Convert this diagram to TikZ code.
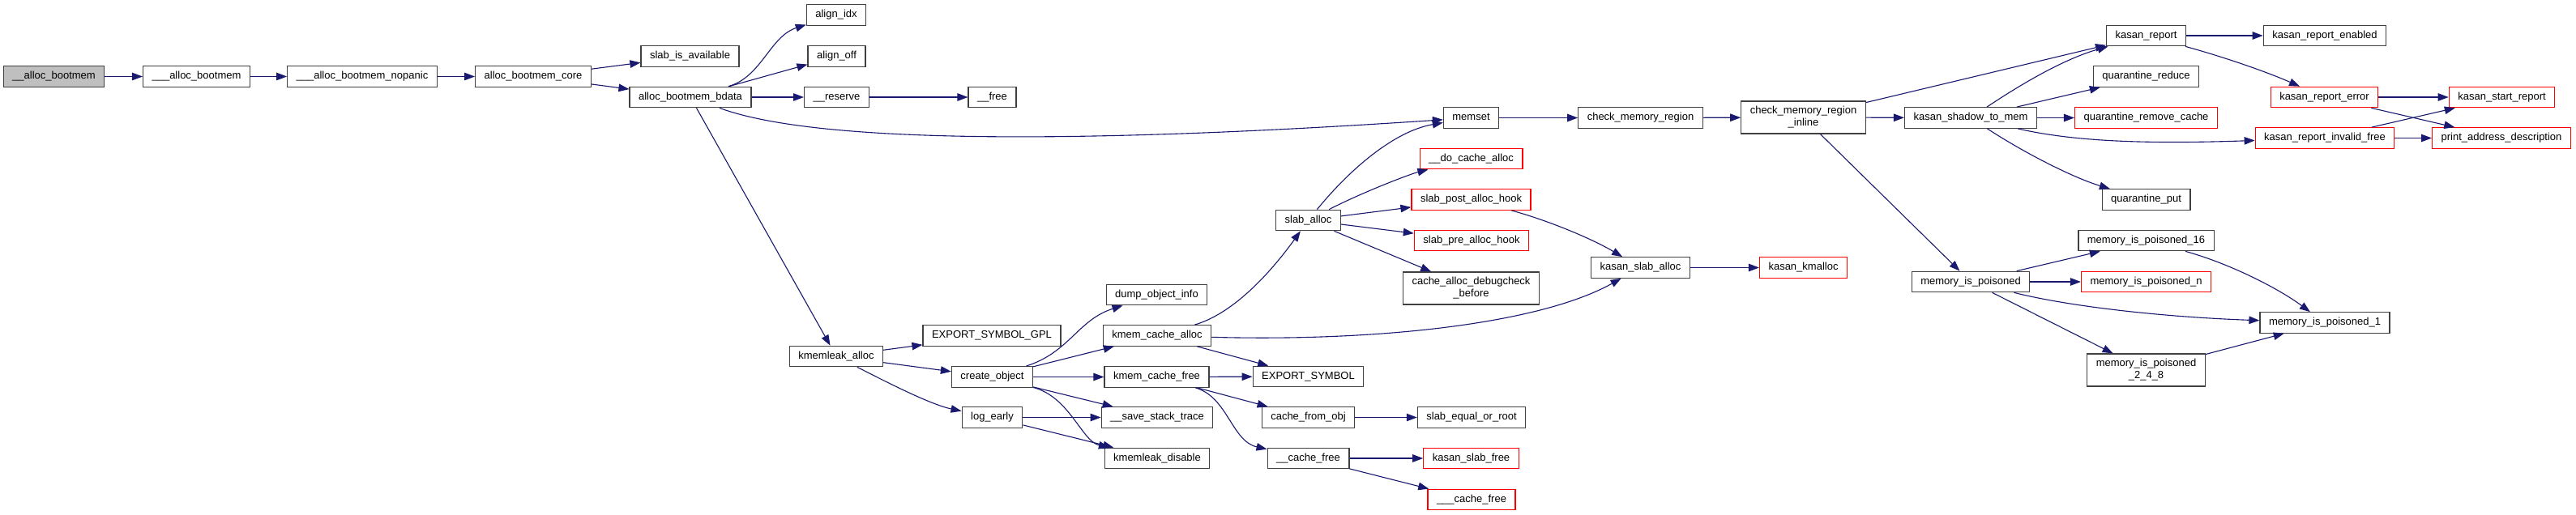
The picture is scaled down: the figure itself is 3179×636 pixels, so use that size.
\documentclass[tikz,border=0pt]{standalone}
\usepackage{fontspec}
\setmainfont{Liberation Sans}
\usetikzlibrary{arrows.meta}
\definecolor{edgeblue}{HTML}{191970}
\definecolor{boxgray}{HTML}{404040}
\begin{document}
\begin{tikzpicture}[x=1pt,y=-1pt,
  every node/.style={font=\fontsize{13}{15}\selectfont},
  fn/.style={draw=boxgray,line width=1.2pt,fill=white,inner xsep=11pt,inner ysep=3pt,minimum height=25.5pt,text height=9.5pt,text depth=3pt},
  fnred/.style={fn,draw=red},
  fntwo/.style={fn,align=center,minimum height=40pt,text height=,text depth=},
  call/.style={-{Triangle[length=13pt,width=9.5pt]},draw=edgeblue,line width=1.1pt}
]
\fill[white] (0,0) rectangle (3179,636);
\useasboundingbox (0,0) rectangle (3179,636);
% call chain from the root
\node[fn,fill=gray!50] (root) at (66.5,94.5) {\_\_alloc\_bootmem};
\node[fn] (allocA) at (242.5,94.5) {\_\_\_alloc\_bootmem};
\node[fn] (nopanic) at (447,94.5) {\_\_\_alloc\_bootmem\_nopanic};
\node[fn] (core) at (658,94.5) {alloc\_bootmem\_core};
\node[fn] (slabavail) at (851.5,69.5) {slab\_is\_available};
\node[fn] (bdata) at (852,120) {alloc\_bootmem\_bdata};
\node[fn] (alignidx) at (1032,18.5) {align\_idx};
\node[fn] (alignoff) at (1032.5,69.5) {align\_off};
\node[fn] (reserve) at (1032.5,120) {\_\_reserve};
\node[fn] (kmemleak) at (1032,440) {kmemleak\_alloc};
\node[fn] (free) at (1224.5,120) {\_\_free};
\node[fn] (exportgpl) at (1224,414.5) {EXPORT\_SYMBOL\_GPL};
\node[fn] (create) at (1224.5,465.5) {create\_object};
\node[fn] (logearly) at (1224.5,515.5) {log\_early};
\node[fn] (dump) at (1427.5,364) {dump\_object\_info};
\node[fn] (kcalloc) at (1428,414.5) {kmem\_cache\_alloc};
\node[fn] (kcfree) at (1427.5,465.5) {kmem\_cache\_free};
\node[fn] (savestack) at (1428,515.5) {\_\_save\_stack\_trace};
\node[fn] (kdisable) at (1428,566) {kmemleak\_disable};
\node[fn] (slaballoc) at (1614.5,272) {slab\_alloc};
\node[fn] (export) at (1614.5,465) {EXPORT\_SYMBOL};
\node[fn] (fromobj) at (1614.5,515.5) {cache\_from\_obj};
\node[fn] (cachefree) at (1614.5,566) {\_\_cache\_free};
\node[fn] (memset) at (1815.5,145.5) {memset};
\node[fnred] (docache) at (1815.5,196) {\_\_do\_cache\_alloc};
\node[fnred] (posthook) at (1815.5,246.5) {slab\_post\_alloc\_hook};
\node[fnred] (prehook) at (1816,297) {slab\_pre\_alloc\_hook};
\node[fntwo] (debugcheck) at (1815.5,356) {cache\_alloc\_debugcheck\\\_before};
\node[fn] (slabequal) at (1816,515.5) {slab\_equal\_or\_root};
\node[fnred] (slabfree) at (1815.5,566) {kasan\_slab\_free};
\node[fnred] (cachefreeB) at (1816,617) {\_\_\_cache\_free};
\node[fn] (checkmem) at (2024.5,145.5) {check\_memory\_region};
\node[fn] (slabkasan) at (2024.5,330.5) {kasan\_slab\_alloc};
\node[fntwo] (inline) at (2225.5,145) {check\_memory\_region\\\_inline};
\node[fnred] (kmalloc) at (2225.5,330.5) {kasan\_kmalloc};
\node[fn] (shadow) at (2432,145.5) {kasan\_shadow\_to\_mem};
\node[fn] (poisoned) at (2432,348) {memory\_is\_poisoned};
\node[fn] (report) at (2648.5,44) {kasan\_report};
\node[fn] (qreduce) at (2648.5,94.5) {quarantine\_reduce};
\node[fnred] (qremove) at (2648.5,145.5) {quarantine\_remove\_cache};
\node[fn] (qput) at (2648.5,246.5) {quarantine\_put};
\node[fn] (p16) at (2648.5,297) {memory\_is\_poisoned\_16};
\node[fnred] (pn) at (2648.5,348) {memory\_is\_poisoned\_n};
\node[fntwo] (p248) at (2648.5,457) {memory\_is\_poisoned\\\_2\_4\_8};
\node[fn] (enabled) at (2869,44) {kasan\_report\_enabled};
\node[fnred] (reperror) at (2868.5,120) {kasan\_report\_error};
\node[fnred] (invalid) at (2869,170.5) {kasan\_report\_invalid\_free};
\node[fn] (p1) at (2869,398.5) {memory\_is\_poisoned\_1};
\node[fnred] (startrep) at (3087.5,120) {kasan\_start\_report};
\node[fnred] (pad) at (3087,170.5) {print\_address\_description};
% calls
\draw[call] (root) -- (allocA);
\draw[call] (allocA) -- (nopanic);
\draw[call] (nopanic) -- (core);
\draw[call] (core) -- (slabavail);
\draw[call] (core) -- (bdata);
\draw[call] (bdata) .. controls (940,95) and (950,45) .. (alignidx);
\draw[call] (bdata) -- (alignoff);
\draw[call] (bdata) -- (reserve);
\draw[call] (reserve) -- (free);
\draw[call] (bdata) .. controls (1000,175) and (1300,180) .. (memset);
\draw[call] (bdata) -- (kmemleak);
\draw[call] (kmemleak) -- (exportgpl);
\draw[call] (kmemleak) -- (create);
\draw[call] (kmemleak) .. controls (1100,475) and (1150,500) .. (logearly);
\draw[call] (create) .. controls (1320,435) and (1330,395) .. (dump);
\draw[call] (create) -- (kcalloc);
\draw[call] (create) -- (kcfree);
\draw[call] (create) -- (savestack);
\draw[call] (create) .. controls (1320,490) and (1335,545) .. (kdisable);
\draw[call] (logearly) -- (savestack);
\draw[call] (logearly) -- (kdisable);
\draw[call] (kcalloc) .. controls (1530,385) and (1580,320) .. (slaballoc);
\draw[call] (kcalloc) -- (export);
\draw[call] (kcalloc) .. controls (1700,422) and (1900,400) .. (slabkasan);
\draw[call] (kcfree) -- (export);
\draw[call] (kcfree) -- (fromobj);
\draw[call] (kcfree) .. controls (1515,490) and (1520,545) .. (cachefree);
\draw[call] (slaballoc) .. controls (1665,210) and (1720,162) .. (memset);
\draw[call] (slaballoc) .. controls (1680,238) and (1740,215) .. (docache);
\draw[call] (slaballoc) -- (posthook);
\draw[call] (slaballoc) -- (prehook);
\draw[call] (slaballoc) -- (debugcheck);
\draw[call] (posthook) .. controls (1910,272) and (1965,295) .. (slabkasan);
\draw[call] (slabkasan) -- (kmalloc);
\draw[call] (fromobj) -- (slabequal);
\draw[call] (cachefree) -- (slabfree);
\draw[call] (cachefree) -- (cachefreeB);
\draw[call] (memset) -- (checkmem);
\draw[call] (checkmem) -- (inline);
\draw[call] (inline) -- (report);
\draw[call] (inline) -- (shadow);
\draw[call] (inline) -- (poisoned);
\draw[call] (shadow) .. controls (2500,100) and (2550,72) .. (report);
\draw[call] (shadow) -- (qreduce);
\draw[call] (shadow) -- (qremove);
\draw[call] (shadow) .. controls (2560,175) and (2650,178) .. (invalid);
\draw[call] (shadow) .. controls (2500,190) and (2560,220) .. (qput);
\draw[call] (report) -- (enabled);
\draw[call] (report) .. controls (2750,72) and (2800,90) .. (reperror);
\draw[call] (reperror) -- (startrep);
\draw[call] (reperror) -- (pad);
\draw[call] (invalid) -- (startrep);
\draw[call] (invalid) -- (pad);
\draw[call] (poisoned) -- (p16);
\draw[call] (poisoned) -- (pn);
\draw[call] (poisoned) .. controls (2560,380) and (2680,392) .. (p1);
\draw[call] (poisoned) -- (p248);
\draw[call] (p16) .. controls (2750,325) and (2810,355) .. (p1);
\draw[call] (p248) -- (p1);
\end{tikzpicture}
\end{document}
